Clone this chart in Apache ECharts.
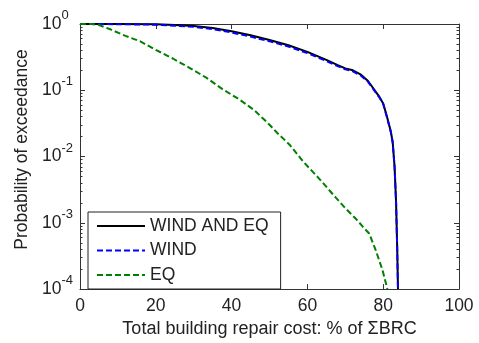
<!DOCTYPE html>
<html>
<head>
<meta charset="utf-8">
<script src="https://cdn.jsdelivr.net/npm/echarts@6/dist/echarts.min.js"></script>
<style>
html,body{margin:0;padding:0;background:#fff;}
#chart{width:479px;height:343px;}
</style>
</head>
<body>
<div id="chart"></div>
<script>
// ---- data ----
const seriesNames = ['WIND AND EQ', 'WIND', 'EQ'];

const costBoth = [0,10,20,25,30,35,40,45,50,55,60,65,68,70,72,74,76,77,78,79,80,81,82,82.5,83,83.4,83.7,83.9];
const probBoth = [1,1,0.989,0.966,0.933,0.871,0.776,0.676,0.575,0.479,0.38,0.288,0.24,0.214,0.2,0.174,0.138,0.115,0.0955,0.0794,0.063,0.0398,0.024,0.0166,0.00708,0.002,0.0004,0.0001];

const costWind = [0,10,20,25,30,35,40,45,50,55,60,65,68,70,72,74,76,77,78,79,80,81,82,82.5,83,83.4,83.7,83.9];
const probWind = [1,0.995,0.975,0.945,0.905,0.84,0.745,0.645,0.548,0.458,0.364,0.276,0.232,0.207,0.193,0.168,0.134,0.112,0.093,0.078,0.062,0.039,0.0235,0.0163,0.007,0.002,0.0004,0.0001];

const costEq = [0,3,5,8,12,15.8,20,24.6,29,33.3,37.5,42.1,46,50,52,55.3,58.8,63.2,67.5,70,72.8,74.5,76.3,78,79.8,81.1];
const probEq = [1,1,0.966,0.832,0.661,0.55,0.407,0.299,0.216,0.155,0.105,0.0724,0.0501,0.0302,0.0229,0.0151,0.00851,0.00457,0.0024,0.00166,0.00115,0.00089,0.00069,0.00039,0.000195,0.0001];

const xTicks = [0,20,40,60,80,100];
const yMajorTicks = [1e-4,1e-3,1e-2,1e-1,1];
const yMinorMultipliers = [2,3,4,5,6,7,8,9];

// ---- build chart ----
const yMinorTicks = [];
yMajorTicks.slice(0, -1).forEach(d => yMinorMultipliers.forEach(m => yMinorTicks.push(d * m)));

const FONT = 'Liberation Sans, Arial, sans-serif';
const TXT = '#222';
const AX = '#333';

function pairs(xs, ys) { return xs.map((x, i) => [x, ys[i]]); }

const yBase = {
  type: 'log', logBase: 10, min: 1e-4, max: 1,
  splitLine: { show: false },
  axisLine: { show: true, lineStyle: { color: AX, width: 1 } }
};

const chart = echarts.init(document.getElementById('chart'), null, { renderer: 'canvas' });
chart.setOption({
  animation: false,
  backgroundColor: '#fff',
  grid: { left: 80, right: 20, top: 24, bottom: 50 },
  legend: {
    orient: 'vertical',
    left: 88, top: 212,
    padding: [5, 12, 5, 8],
    itemGap: 6.5,
    itemWidth: 48, itemHeight: 14,
    borderColor: '#222', borderWidth: 1,
    backgroundColor: '#fff',
    itemStyle: { opacity: 0 },
    data: seriesNames,
    textStyle: { fontFamily: FONT, fontSize: 17.5, color: TXT }
  },
  xAxis: [
    {
      type: 'value', min: 0, max: 100, interval: 20, position: 'bottom',
      splitLine: { show: false },
      axisLine: { show: true, onZero: false, lineStyle: { color: AX } },
      axisTick: { inside: true, length: 5, lineStyle: { color: AX } },
      axisLabel: { fontFamily: FONT, fontSize: 17.5, color: TXT, margin: 8,
        customValues: xTicks },
      name: 'Total building repair cost: % of \u03A3BRC',
      nameLocation: 'middle', nameGap: 27,
      nameTextStyle: { fontFamily: FONT, fontSize: 18, color: TXT }
    },
    {
      type: 'value', min: 0, max: 100, interval: 20, position: 'top',
      splitLine: { show: false },
      axisLine: { show: true, onZero: false, lineStyle: { color: AX } },
      axisTick: { inside: true, length: 5, lineStyle: { color: AX } },
      axisLabel: { show: false }
    }
  ],
  yAxis: [
    Object.assign({}, yBase, {
      position: 'left',
      axisTick: { inside: true, length: 5, customValues: yMajorTicks, lineStyle: { color: AX } },
      axisLabel: {
        customValues: yMajorTicks,
        align: 'left', margin: 38,
        formatter: v => '{b|10}{s|' + Math.round(Math.log10(v)) + '}',
        rich: {
          b: { fontFamily: FONT, fontSize: 17.5, lineHeight: 30, color: TXT, verticalAlign: 'middle' },
          s: { fontFamily: FONT, fontSize: 13, lineHeight: 13, color: TXT, verticalAlign: 'top' }
        }
      },
      name: 'Probability of exceedance',
      nameLocation: 'middle', nameGap: 48,
      nameTextStyle: { fontFamily: FONT, fontSize: 17.5, color: TXT, padding: [0, 0, 0, 14] }
    }),
    Object.assign({}, yBase, {
      position: 'left',
      axisLine: { show: false },
      axisTick: { inside: true, length: 2.5, customValues: yMinorTicks, lineStyle: { color: AX } },
      axisLabel: { show: false }
    }),
    Object.assign({}, yBase, {
      position: 'right',
      axisTick: { inside: true, length: 5, customValues: yMajorTicks, lineStyle: { color: AX } },
      axisLabel: { show: false }
    }),
    Object.assign({}, yBase, {
      position: 'right',
      axisLine: { show: false },
      axisTick: { inside: true, length: 2.5, customValues: yMinorTicks, lineStyle: { color: AX } },
      axisLabel: { show: false }
    })
  ],
  series: [
    {
      name: seriesNames[0], type: 'line', xAxisIndex: 0, yAxisIndex: 0,
      data: pairs(costBoth, probBoth), showSymbol: false, symbol: 'none',
      color: '#000', lineStyle: { color: '#000', width: 2, type: 'solid' }, z: 2
    },
    {
      name: seriesNames[1], type: 'line', xAxisIndex: 0, yAxisIndex: 0,
      data: pairs(costWind, probWind), showSymbol: false, symbol: 'none',
      color: '#0000ff', lineStyle: { color: '#0000ff', width: 2, type: [6, 3] }, z: 3
    },
    {
      name: seriesNames[2], type: 'line', xAxisIndex: 0, yAxisIndex: 0,
      data: pairs(costEq, probEq), showSymbol: false, symbol: 'none',
      color: '#008000', lineStyle: { color: '#008000', width: 2, type: [6, 3] }, z: 3
    }
  ]
});
</script>
</body>
</html>
